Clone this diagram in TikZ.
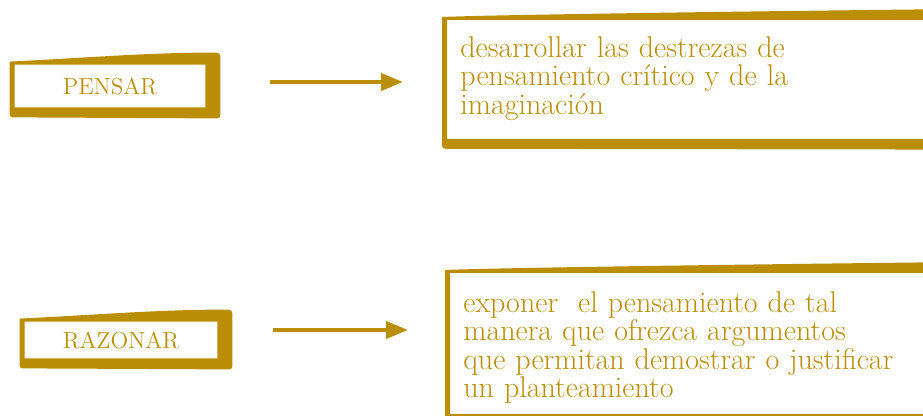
\documentclass[tikz,border=0pt]{standalone}
\usepackage{fontspec}
\usetikzlibrary{arrows.meta}
\definecolor{gold}{RGB}{187,142,8}

\newcommand{\brushframe}[1]{%
    \fill[brush] ([shift={(-5,-3)}]#1.north west)
        .. controls ([shift={(60,-6)}]#1.north west) and ([shift={(-60,-12)}]#1.north east) .. ([shift={(6,-12)}]#1.north east)
        .. controls ([shift={(15,-12)}]#1.north east) .. ([shift={(15,-4)}]#1.north east)
        -- ([shift={(15,4)}]#1.south east)
        .. controls ([shift={(15,11)}]#1.south east) .. ([shift={(8,11)}]#1.south east)
        -- ([shift={(2,10)}]#1.south west)
        .. controls ([shift={(-5,10)}]#1.south west) .. ([shift={(-5,3)}]#1.south west)
        -- cycle
        (#1.north west) rectangle (#1.south east);}

\begin{document}
\begin{tikzpicture}%
        [x=0.5pt, y=-0.5pt,
        brush/.style={fill=gold, even odd rule},
        tagbox/.style={inner sep=0pt, text=gold, font=\fontsize{11.6}{13}\selectfont},
        descbox/.style={inner xsep=6.5pt, inner ysep=0pt, align=left, text width=300pt,
            text=gold, font=\fontsize{15}{14.25}\selectfont},
        link/.style={draw=gold, line width=2pt, -{Triangle[length=11pt,width=8.5pt]}}]

    \clip (0,0) rectangle (923,416);
    %% Drawing the boxes
    \node[tagbox, minimum width=95pt, minimum height=21pt] (pensar) at (110,86) {PENSAR};
    \node[tagbox, minimum width=96pt, minimum height=18pt] (razonar) at (121,340) {RAZONAR};
    \node[descbox, anchor=north west] (desc1) at (447,20)
        {\rule{0pt}{18.5pt}desarrollar las destrezas de\\pensamiento crítico y de la\\imaginación\rule[-12pt]{0pt}{0pt}};
    \node[descbox, anchor=north west] (desc2) at (450,273)
        {\rule{0pt}{19.5pt}exponer~ el pensamiento de tal\\manera que ofrezca argumentos\\que permitan demostrar o justificar\\un planteamiento\rule[-7.75pt]{0pt}{0pt}};
    %%
    %% Drawing the frames
    %%
    \brushframe{pensar}
    \brushframe{razonar}
    \brushframe{desc1}
    \brushframe{desc2}
    %%
    %% Drawing the arrows
    %%
    \coordinate (end1) at (desc1.west |- pensar.east);
    \coordinate (end2) at (desc2.west |- razonar.east);
    \draw[link, shorten <=32.5pt, shorten >=22pt] ([yshift=2pt]pensar.east) -- ([yshift=2pt]end1);
    \draw[link, shorten <=28pt, shorten >=21pt] ([yshift=5pt]razonar.east) -- ([yshift=5pt]end2);
    %%
\end{tikzpicture}
\end{document}
